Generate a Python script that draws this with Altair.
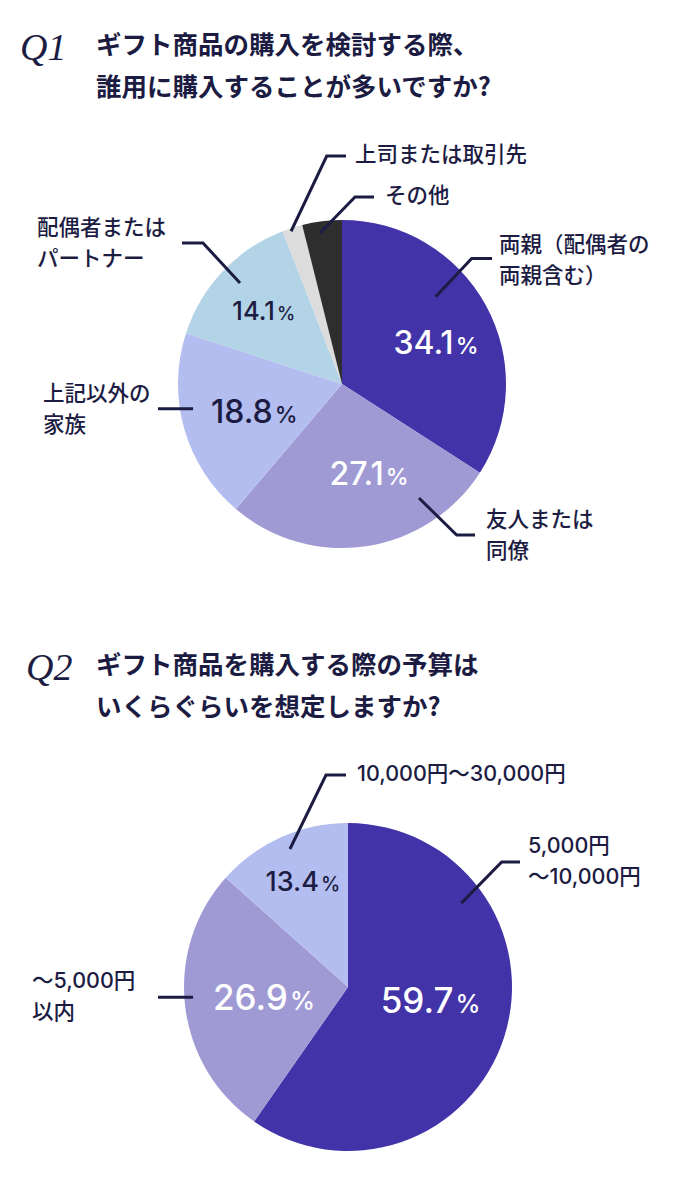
import altair as alt
import numpy as np
import pandas as pd

# ---------------- data ----------------
Q1_TITLE = ["ギフト商品の購入を検討する際、", "誰用に購入することが多いですか?"]
Q1_CATEGORIES = ["両親（配偶者の両親含む）", "友人または同僚", "上記以外の家族",
                 "配偶者またはパートナー", "上司または取引先", "その他"]
Q1_LABELS = [["両親（配偶者の", "両親含む）"], ["友人または", "同僚"], ["上記以外の", "家族"],
             ["配偶者または", "パートナー"], ["上司または取引先"], ["その他"]]
Q1_VALUES = [34.1, 27.1, 18.8, 14.1, 2.0, 3.9]

Q2_TITLE = ["ギフト商品を購入する際の予算は", "いくらぐらいを想定しますか?"]
Q2_CATEGORIES = ["5,000円〜10,000円", "〜5,000円以内", "10,000円〜30,000円"]
Q2_LABELS = [["5,000円", "〜10,000円"], ["〜5,000円", "以内"], ["10,000円〜30,000円"]]
Q2_VALUES = [59.7, 26.9, 13.4]

# ---------------- style ----------------
Q1_COLORS = ["#4233a8", "#a09ad4", "#b3bdf0", "#b3d3e6", "#dcdcdc", "#2e2e2e"]
Q2_COLORS = ["#4233a8", "#a09ad4", "#b3bdf0"]
NAVY = "#1c1c43"
JP_FONT = "Noto Sans CJK JP"
LABEL_FONT = "Inter, 'Noto Sans CJK JP'"
NUM_FONT = "Inter"

# ---------------- layout (page pixel coordinates) ----------------
OFF = 8
W, H = 672, 1160
LINE_GAP = 31

PIE1 = {"cx": 342, "cy": 384, "r": 164, "fs": (25.5, 32),
        "q": ("Q1", 20, 60), "title": (96, 46, 88),
        "inner": [(0.525, 97.5), (0.47, 91.3), (0.495, 96.8), (0.44, 112.8), None, None],
        "lead": [(0.383, 128, (471.7, 258.5), 492, (499, 245.5)),
                 (0.238, 137.6, (456.7, 535), 475, (486, 521)),
                 (0.594, 151, None, 158, (43, 395)),
                 (0.526, 143.5, (203, 243), 182, (37, 229)),
                 (0.39, 161, (326.7, 156), 346, (355, 156)),
                 (0.41, 152.6, (355, 197), 374, (385, 197))]}
PIE2 = {"cx": 348, "cy": 987, "r": 164, "fs": (27, 35),
        "q": ("Q2", 26, 680), "title": (96, 666, 708),
        "inner": [(0.462, 80.6), (0.5, 86.6), (0.486, 116.8)],
        "lead": [(0.249, 141, (501.7, 862), 520, (528, 847)),
                 (0.53, 155.3, None, 158, (32, 982)),
                 (0.527, 149.7, (326, 775), 346, (357, 775))]}

XS = alt.Scale(domain=[0, W], nice=False, zero=False)
YS = alt.Scale(domain=[0, H], nice=False, zero=False, reverse=True)


def polar(cx, cy, r, deg):
    a = np.deg2rad(deg)
    return cx + r * np.sin(a), cy - r * np.cos(a)


def build(cats, values, colors, labels, title, pie):
    total = float(sum(values))
    cum = np.concatenate([[0.0], np.cumsum(values)])
    cx, cy, R = pie["cx"], pie["cy"], pie["r"]
    fs_small, fs_big = pie["fs"]
    layers = []

    df = pd.DataFrame({"cat": cats, "value": values, "idx": list(range(len(cats)))})
    layers.append(
        alt.Chart(df).mark_arc(outerRadius=R, strokeWidth=0).encode(
            theta=alt.Theta("value:Q", stack=True),
            order=alt.Order("idx:Q"),
            color=alt.Color("cat:N", scale=alt.Scale(domain=cats, range=colors), legend=None),
            x=alt.value(cx - OFF), y=alt.value(cy - OFF),
        )
    )

    # percentage labels inside slices
    rows = []
    for i, v in enumerate(values):
        lay = pie["inner"][i]
        if lay is None:
            continue
        frac, rl = lay
        ang = (cum[i] + frac * values[i]) / total * 360.0
        lx, ly = polar(cx, cy, rl, ang)
        fs = fs_big if v >= 15 else fs_small
        rows.append({"value": v, "x": lx + 0.74 * fs - OFF, "y": ly + 0.365 * fs - OFF})
    ldf = pd.DataFrame(rows)
    tcol = alt.condition(alt.datum.value > 20, alt.value("#ffffff"), alt.value(NAVY))
    layers.append(
        alt.Chart(ldf).mark_text(align="right", baseline="alphabetic", font=NUM_FONT,
                                 fontWeight=500).encode(
            x=alt.X("x:Q", scale=XS, axis=None), y=alt.Y("y:Q", scale=YS, axis=None),
            text=alt.Text("value:Q", format=".1f"),
            size=alt.Size("value:Q", scale=alt.Scale(type="threshold", domain=[15],
                                                     range=[fs_small, fs_big]), legend=None),
            color=tcol,
        )
    )
    layers.append(
        alt.Chart(ldf).mark_text(align="left", baseline="alphabetic", font=NUM_FONT,
                                 fontWeight=500, dx=2).encode(
            x=alt.X("x:Q", scale=XS, axis=None), y=alt.Y("y:Q", scale=YS, axis=None),
            text=alt.value("%"),
            size=alt.Size("value:Q", scale=alt.Scale(type="threshold", domain=[15],
                                                     range=[fs_small * 0.72, fs_big * 0.72]),
                          legend=None),
            color=tcol,
        )
    )

    # leader lines and category labels
    lrows, trows = [], []
    for i, lead in enumerate(pie["lead"]):
        frac, rs, elbow, end_x, (tx, ty) = lead
        ang = (cum[i] + frac * values[i]) / total * 360.0
        sx, sy = polar(cx, cy, rs, ang)
        pts = [(sx, sy)]
        if elbow is not None:
            pts.append(elbow)
        ey = pts[-1][1]
        pts.append((end_x, ey))
        for k, (px_, py_) in enumerate(pts):
            lrows.append({"key": cats[i], "pt": k, "x": px_ - OFF, "y": py_ - OFF})
        for j, line in enumerate(labels[i]):
            trows.append({"text": line, "x": tx - OFF, "y": ty + j * LINE_GAP - OFF})
    layers.append(
        alt.Chart(pd.DataFrame(lrows)).mark_line(color=NAVY, strokeWidth=3, strokeCap="butt",
                                                  strokeJoin="miter").encode(
            x=alt.X("x:Q", scale=XS, axis=None), y=alt.Y("y:Q", scale=YS, axis=None),
            detail="key:N", order="pt:Q",
        )
    )
    layers.append(
        alt.Chart(pd.DataFrame(trows)).mark_text(align="left", baseline="middle", font=LABEL_FONT,
                                                  fontSize=21.5, fontWeight=500, color=NAVY).encode(
            x=alt.X("x:Q", scale=XS, axis=None), y=alt.Y("y:Q", scale=YS, axis=None),
            text="text:N",
        )
    )

    # title
    qtxt, qx, qy = pie["q"]
    tx, ty1, ty2 = pie["title"]
    tdf = pd.DataFrame({"text": title, "x": [tx - OFF, tx - OFF], "y": [ty1 - OFF, ty2 - OFF]})
    layers.append(
        alt.Chart(tdf).mark_text(align="left", baseline="middle", font=JP_FONT, fontSize=25.5,
                                 fontWeight="bold", color=NAVY).encode(
            x=alt.X("x:Q", scale=XS, axis=None), y=alt.Y("y:Q", scale=YS, axis=None),
            text="text:N",
        )
    )
    qdf = pd.DataFrame({"text": [qtxt], "x": [qx - OFF], "y": [qy - OFF]})
    layers.append(
        alt.Chart(qdf).mark_text(align="left", baseline="alphabetic", font="Liberation Serif",
                                 fontStyle="italic", fontSize=38, color=NAVY).encode(
            x=alt.X("x:Q", scale=XS, axis=None), y=alt.Y("y:Q", scale=YS, axis=None),
            text="text:N",
        )
    )
    return layers


layers = (build(Q1_CATEGORIES, Q1_VALUES, Q1_COLORS, Q1_LABELS, Q1_TITLE, PIE1)
          + build(Q2_CATEGORIES, Q2_VALUES, Q2_COLORS, Q2_LABELS, Q2_TITLE, PIE2))

chart = (
    alt.layer(*layers)
    .resolve_scale(theta="independent", color="independent", size="independent")
    .properties(width=W, height=H, padding=0, autosize="none", background="#ffffff")
    .configure_view(stroke=None)
)

chart.save("out.html", embed_options={"renderer": "svg", "actions": False})
